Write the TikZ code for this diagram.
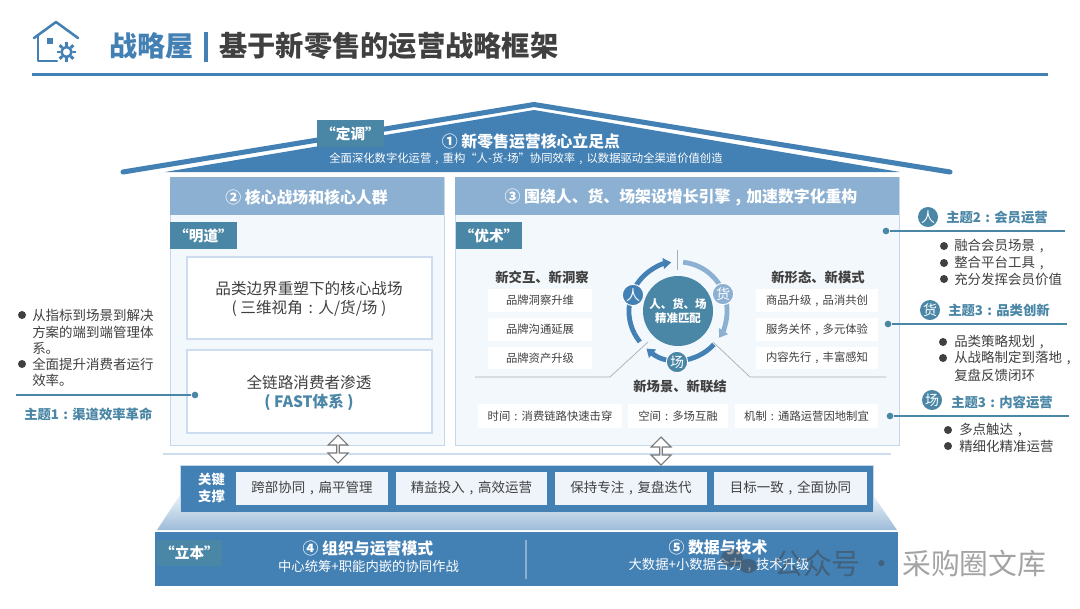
\documentclass[tikz,border=0pt]{standalone}
\usepackage{fontspec}
\setmainfont{Noto Sans CJK SC}
\usetikzlibrary{arrows.meta, shapes.arrows}
\definecolor{roofblue}{RGB}{67, 128, 180}
\definecolor{tagteal}{RGB}{74, 134, 166}
\definecolor{headblue}{RGB}{139, 176, 210}
\definecolor{panelfill}{RGB}{243, 248, 252}
\definecolor{panelline}{RGB}{197, 216, 234}
\definecolor{boxline}{RGB}{205, 220, 238}
\definecolor{cardfill}{RGB}{239, 244, 250}
\definecolor{darktext}{RGB}{64, 64, 64}
\definecolor{thinline}{RGB}{165, 172, 178}
\newcommand{\pxfont}[2]{\fontsize{#1}{#2}\selectfont}
% punctuation centred in a full character cell
\newcommand{\cma}{\makebox[1em][c]{,}}
\newcommand{\cln}{\makebox[1em][c]{:}}
\tikzset{
    tagbox/.style={fill=tagteal, text=white, inner sep=0pt, font=\pxfont{11}{13}\bfseries},
    headtext/.style={text=white, inner sep=0pt, font=\pxfont{11.9}{14}\bfseries},
    subtext/.style={text=white, inner sep=0pt, font=\pxfont{8.5}{11}},
    bigtext/.style={text=darktext, inner sep=0pt, align=center, font=\pxfont{11.7}{14.2}},
    whitecard/.style={fill=white, text=darktext, inner sep=0pt, font=\pxfont{8.5}{11}},
    sectiontext/.style={text=darktext, inner sep=0pt, font=\pxfont{10}{12}\bfseries},
    supportcard/.style={fill=cardfill, text=darktext, inner sep=0pt, font=\pxfont{10.1}{12}},
    itemtext/.style={text=darktext, inner sep=0pt, anchor=west, align=left, font=\pxfont{10.1}{12}},
    bulletdot/.style={circle, fill=darktext, inner sep=0pt, minimum size=6pt},
    themetext/.style={text=tagteal, inner sep=0pt, anchor=west, font=\pxfont{10}{12}\bfseries},
    themecircle/.style={circle, fill=tagteal, text=white, inner sep=0pt, minimum size=15pt, font=\pxfont{10.5}{12}},
    hubcircle/.style={circle, draw=white, line width=0.7pt, text=white, inner sep=0pt, minimum size=16pt, font=\pxfont{10.5}{12}},
    pin/.style={circle, fill=tagteal, inner sep=0pt, minimum size=5pt},
    leader/.style={tagteal, line width=0.9pt},
    thin gray/.style={thinline, line width=0.5pt},
    updown/.style={double arrow, rotate=90, draw=darktext!70, fill=white, line width=0.8pt, inner sep=0pt,
        minimum height=21pt, minimum width=15pt, double arrow head extend=2.8pt},
    ringdark/.style={roofblue, line width=3.6pt, -{Triangle[length=6pt,width=8pt]}},
    ringlight/.style={headblue, line width=3.6pt, -{Triangle[length=6pt,width=8pt]}}
}

\begin{document}
\begin{tikzpicture}[x=0.75pt,y=-0.75pt]
    \useasboundingbox (0,0) rectangle (1080,608);
    \fill[white] (0,0) rectangle (1080,608);

    % House icon
    \draw[roofblue, line width=1.9pt, line cap=round, line join=round] (34,38) -- (56,22) -- (78,38);
    \draw[roofblue, line width=1.9pt, line cap=round, line join=round] (38,35) -- (38,61) -- (57,61);
    \fill[roofblue] (47,38) rectangle ++(5.5,5.5);
    \draw[roofblue, line width=1.9pt] (66.5,52) circle (5);
    \foreach \a in {0,45,...,315}
        \draw[roofblue, line width=2.2pt] (66.5,52) ++(\a:4.6pt) -- ++(\a:2.6pt);

    % Title
    \node[anchor=west, inner sep=0pt, text=roofblue, font=\pxfont{21}{24}\bfseries] (titleleft) at (109,46) {战略屋};
    \draw[roofblue, line width=2.6pt] (206,32) -- (206,62);
    \node[anchor=west, inner sep=0pt, text=darktext, font=\pxfont{21.2}{24}\bfseries] (titlemain) at (219,46) {基于新零售的运营战略框架};
    \fill[roofblue] (32,72.5) rectangle (1048,76);

    % Roof
    \fill[roofblue] (165,172) -- (534,110) -- (900,172) -- cycle;
    \draw[roofblue, line width=3.8pt, line cap=round, line join=miter] (123,172) -- (534,104.5) -- (950,172);
    \node[tagbox, minimum width=50pt, minimum height=20pt] (tagroof) at (350.5,133.5) {“定调”};
    \node[headtext] (rooftitle) at (531,141) {① 新零售运营核心立足点};
    \node[subtext] (roofsub) at (526,158.5) {全面深化数字化运营\cma{}重构“人-货-场”协同效率\cma{}以数据驱动全渠道价值创造};

    % Two panels under the roof
    \draw[panelline, fill=panelfill, line width=0.7pt] (170,177) rectangle (444,445);
    \draw[panelline, fill=panelfill, line width=0.7pt] (455,177) rectangle (899,445);
    \fill[headblue] (170,177) rectangle (444,215);
    \fill[headblue] (455,177) rectangle (899,215);
    \node[headtext] (headleft) at (306.5,197) {② 核心战场和核心人群};
    \node[headtext] (headright) at (681,197) {③ 围绕人、货、场架设增长引擎\cma{}加速数字化重构};
    \node[tagbox, minimum width=50pt, minimum height=20pt] (tagleft) at (203.5,235.5) {“明道”};
    \node[tagbox, minimum width=50pt, minimum height=20pt] (tagright) at (489,235.5) {“优术”};

    % Left panel boxes
    \draw[boxline, fill=white, line width=0.8pt] (187,257) rectangle (432,339);
    \draw[boxline, fill=white, line width=0.8pt] (187,350) rectangle (432,433);
    \node[bigtext] (battle) at (309,298.5) {品类边界重塑下的核心战场\\( 三维视角\cln{}人/货/场 )};
    \node[bigtext] (reach) at (309,392.5) {全链路消费者渗透\\{\color{tagteal}\bfseries ( FAST体系 )}};

    % Hub in the right panel
    \node[circle, fill=tagteal, text=white, inner sep=0pt, minimum size=52.5pt, align=center, font=\pxfont{8.6}{10.5}\bfseries] (hub) at (678,311) {人、货、场\\精准匹配};
    \draw[ringdark] (hub) ++(219:36.8pt) arc[start angle=219, end angle=98, radius=36.8pt];
    \draw[ringlight] (hub) ++(84:36.8pt) arc[start angle=84, end angle=-33, radius=36.8pt];
    \draw[ringdark] (hub) ++(-43:36.8pt) arc[start angle=-43, end angle=-130, radius=36.8pt];
    \node[hubcircle, fill=roofblue] (hubperson) at (633,295) {人};
    \node[hubcircle, fill=headblue] (hubgoods) at (723,294) {货};
    \node[hubcircle, fill=tagteal] (hubplace) at (677,362) {场};

    % Thin dividers around the hub
    \coordinate (topmark) at (677,250);
    \coordinate (topend) at (677,270);
    \draw[thin gray] (topmark) -- (topend);
    \coordinate (leftfar) at (475,377);
    \coordinate (leftbend) at (610,377);
    \coordinate (leftend) at (648,342);
    \draw[thin gray] (leftfar) -- (leftbend) -- (leftend);
    \coordinate (rightfar) at (886,377);
    \coordinate (rightbend) at (750,377);
    \coordinate (rightend) at (713,342);
    \draw[thin gray] (rightfar) -- (rightbend) -- (rightend);

    % Cards beside the hub
    \node[sectiontext] (secleft) at (542,277) {新交互、新洞察};
    \node[sectiontext] (secright) at (818,277) {新形态、新模式};
    \node[sectiontext] (secbottom) at (680,386) {新场景、新联结};
    \foreach \n/\y/\t in {1/300.5/品牌洞察升维, 2/329.5/品牌沟通延展, 3/358/品牌资产升级}
        \node[whitecard, minimum width=78pt, minimum height=17pt] (brand\n) at (540,\y) {\t};
    \foreach \n/\y/\t in {1/300.5/商品升级\cma{}品消共创, 2/329.5/服务关怀\cma{}多元体验, 3/358/内容先行\cma{}丰富感知}
        \node[whitecard, minimum width=91.5pt, minimum height=17pt] (form\n) at (817,\y) {\t};
    \node[whitecard, minimum width=108pt, minimum height=18pt] (scenetime) at (550,416) {时间\cln{}消费链路快速击穿};
    \node[whitecard, minimum width=75pt, minimum height=18pt] (scenespace) at (678,416) {空间\cln{}多场互融};
    \node[whitecard, minimum width=107pt, minimum height=18pt] (scenerule) at (806.5,416) {机制\cln{}通路运营因地制宜};

    % Left theme
    \foreach \n/\y in {1/315, 2/364}
        \node[bulletdot] (dotleft\n) at (22,\y) {};
    \foreach \n/\y/\t in {1/315/从指标到场景到解决, 2/332/方案的端到端管理体, 3/348/系。, 4/364/全面提升消费者运行, 5/380/效率。}
        \node[itemtext] (itemleft\n) at (32,\y) {\t};
    \coordinate (lineleft) at (16,395);
    \node[pin] (pinleft) at (195,395) {};
    \draw[leader] (lineleft) -- (pinleft);
    \node[themetext] (themeleft) at (24,414.5) {主题1\cln{}渠道效率革命};

    % Right themes
    \node[themecircle] (circleone) at (928,217) {人};
    \node[themetext] (themeone) at (946,217) {主题2\cln{}会员运营};
    \coordinate (lineone) at (1065,231);
    \node[pin] (pinone) at (886,231) {};
    \draw[leader] (pinone) -- (lineone);
    \foreach \n/\y/\t in {1/246/融合会员场景\cma, 2/263/整合平台工具\cma, 3/279/充分发挥会员价值} {
        \node[bulletdot] (dotone\n) at (944,\y) {};
        \node[itemtext] (itemone\n) at (954,\y) {\t};
    }
    \node[themecircle] (circletwo) at (930,310) {货};
    \node[themetext] (themetwo) at (948,310) {主题3\cln{}品类创新};
    \coordinate (linetwo) at (1067,324);
    \node[pin] (pintwo) at (888,324) {};
    \draw[leader] (pintwo) -- (linetwo);
    \foreach \n/\y/\t in {1/342/品类策略规划\cma, 2/358/从战略制定到落地\cma}{
        \node[bulletdot] (dottwo\n) at (943,\y) {};
        \node[itemtext] (itemtwo\n) at (954,\y) {\t};
    }
    \node[itemtext] (itemtwo3) at (954,375) {复盘反馈闭环};
    \node[themecircle] (circlethree) at (932,400) {场};
    \node[themetext] (themethree) at (951,402) {主题3\cln{}内容运营};
    \coordinate (linethree) at (1069,416);
    \node[pin] (pinthree) at (890,416) {};
    \draw[leader] (pinthree) -- (linethree);
    \foreach \n/\y/\t in {1/430/多点触达\cma, 2/446/精细化精准运营}{
        \node[bulletdot] (dotthree\n) at (948,\y) {};
        \node[itemtext] (itemthree\n) at (959,\y) {\t};
    }

    % Base of the house
    \draw[boxline, line width=1pt] (163,454) -- (891,454);
    \shade[top color=roofblue!10, middle color=roofblue!80, bottom color=headblue!85] (180,495) -- (873,495) -- (897,530) -- (157,530) -- cycle;
    \fill[roofblue] (155,532) rectangle (898,586);
    \draw[panelline, fill=roofblue, line width=0.6pt] (180,465) rectangle (873,512);
    \node[updown] (arrowleft) at (338,449) {};
    \node[updown] (arrowright) at (661,451) {};
    \node[text=white, inner sep=0pt, align=right, font=\pxfont{10}{12.4}\bfseries] (keylabel) at (211.5,488) {关键\\支撑};
    \node[supportcard, minimum width=114pt, minimum height=24.8pt] (supportone) at (312,488.5) {跨部协同\cma{}扁平管理};
    \node[supportcard, minimum width=113.3pt, minimum height=24.8pt] (supporttwo) at (471.5,488.5) {精益投入\cma{}高效运营};
    \node[supportcard, minimum width=114pt, minimum height=24.8pt] (supportthree) at (631,488.5) {保持专注\cma{}复盘迭代};
    \node[supportcard, minimum width=114.8pt, minimum height=24.8pt] (supportfour) at (790.5,488.5) {目标一致\cma{}全面协同};
    \node[tagbox, minimum width=49pt, minimum height=19.5pt] (tagbase) at (189.5,553) {“立本”};
    \node[headtext] (baseonetitle) at (368,549) {④ 组织与运营模式};
    \node[subtext, font=\pxfont{10}{12}] (baseonesub) at (368.5,566) {中心统筹+职能内嵌的协同作战};
    \draw[headblue, line width=0.8pt] (526,540) -- (526,579);
    \node[headtext] (basetwotitle) at (718,547) {⑤ 数据与技术};
    \node[subtext, font=\pxfont{10}{12}] (basetwosub) at (719,565) {大数据+小数据合力\cma{}技术升级};

    % Watermark
    \fill[darktext, opacity=0.45] (732,558) ellipse (11 and 9);
    \fill[darktext, opacity=0.45] (748,566) ellipse (9 and 7);
    \node[anchor=west, inner sep=0pt, text=darktext, opacity=0.48, font=\pxfont{21.6}{24}] (watermark) at (774,564) {公众号 · 采购圈文库};
\end{tikzpicture}
\end{document}
